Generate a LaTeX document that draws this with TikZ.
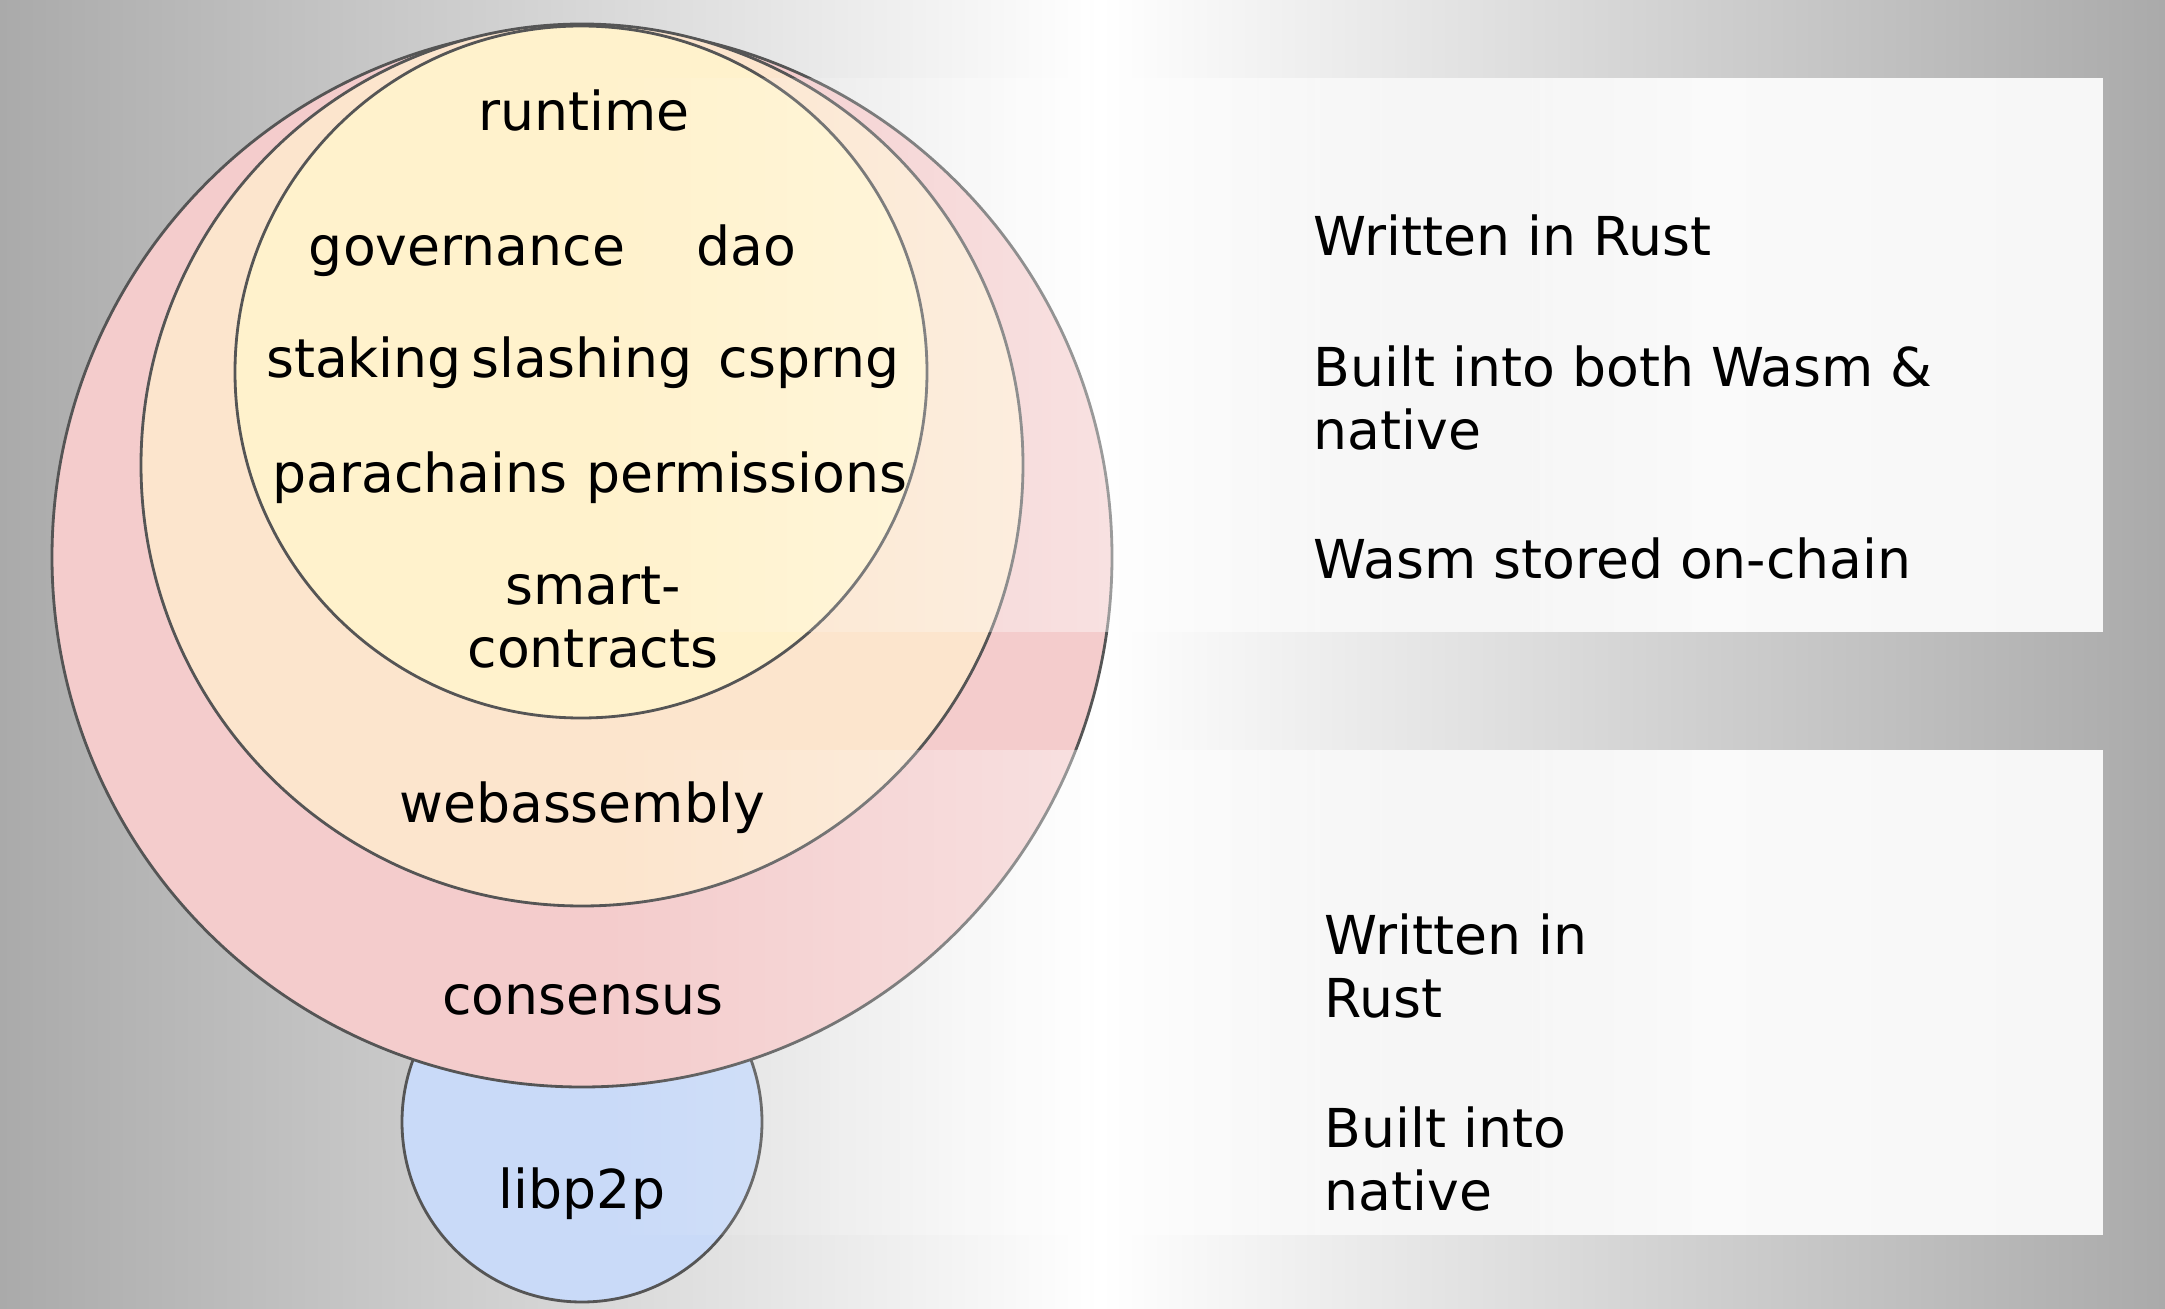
\documentclass[tikz,border=0pt]{standalone}
\usepackage{fontspec}
\setmainfont{DejaVu Sans}
\usepackage{xcolor}
\usetikzlibrary{fadings}

\definecolor{consfill}{HTML}{F4CCCC}
\definecolor{wasmfill}{HTML}{FCE5CD}
\definecolor{rtfill}{HTML}{FFF2CC}
\definecolor{p2pfill}{HTML}{C9DAF8}
\definecolor{ringline}{HTML}{555555}
\definecolor{bgedge}{HTML}{AAAAAA}

\tikzfading[name=panelramp, left color=transparent!100, right color=transparent!0]

\begin{document}
\begin{tikzpicture}[x=0.01cm,y=-0.01cm,
    ring/.style={draw=ringline, line width=0.8pt},
    lbl/.style={anchor=base, inner sep=0pt, font=\fontsize{15.25pt}{17.9pt}\selectfont},
    note/.style={anchor=base west, inner sep=0pt, align=left, font=\fontsize{15.25pt}{17.9pt}\selectfont}]
                \useasboundingbox (0,0) rectangle (2165,1309);

                % slide background
                \shade[left color=bgedge, right color=white] (0,0) rectangle (1100,1309);
                \shade[left color=white, right color=bgedge] (1100,0) rectangle (2165,1309);

                \coordinate (p2p) at (582,1122);
                \coordinate (cons) at (582,557);
                \coordinate (wasm) at (582,465);
                \coordinate (rt) at (581,372);

                \draw[ring, fill=p2pfill] (p2p) circle [radius=180];
                \draw[ring, fill=consfill] (cons) circle [radius=530];
                \draw[ring, fill=wasmfill] (wasm) circle [radius=441];
                \draw[ring, fill=rtfill] (rt) circle [radius=346];

                % the two text panels, fading in from the left
                \fill[white, fill opacity=0.9, path fading=panelramp] (600,78) rectangle (1700,632);
                \fill[white, fill opacity=0.9] (1700,78) rectangle (2103,632);
                \fill[white, fill opacity=0.9, path fading=panelramp] (600,750) rectangle (1700,1235);
                \fill[white, fill opacity=0.9] (1700,750) rectangle (2103,1235);

                % multi-line nodes sit on the baseline of their last line
                \node[lbl] (runtime) at (584,130) {runtime};
                \node[lbl] (gov) at (467,265) {governance};
                \node[lbl] (dao) at (746,265) {dao};
                \node[lbl] (staking) at (364,377) {staking};
                \node[lbl] (slashing) at (582,377) {slashing};
                \node[lbl] (csprng) at (809,377) {csprng};
                \node[lbl] (para) at (420,492) {parachains};
                \node[lbl] (perm) at (747,492) {permissions};
                \node[lbl, align=center] (contracts) at (593,667) {smart-\\contracts};
                \node[lbl] (webassembly) at (582,822) {webassembly};
                \node[lbl] (consensus) at (583,1014) {consensus};
                \node[lbl] (libp2p) at (582,1208) {libp2p};

                \node[note] (rustrt) at (1313,255) {Written in Rust};
                \node[note] (builtboth) at (1313,449) {Built into both Wasm \&\\native};
                \node[note] (stored) at (1313,578) {Wasm stored on-chain};
                \node[note] (rustcore) at (1324,1017) {Written in\\Rust};
                \node[note] (builtnative) at (1324,1210) {Built into\\native};
             \end{tikzpicture}
\end{document}
